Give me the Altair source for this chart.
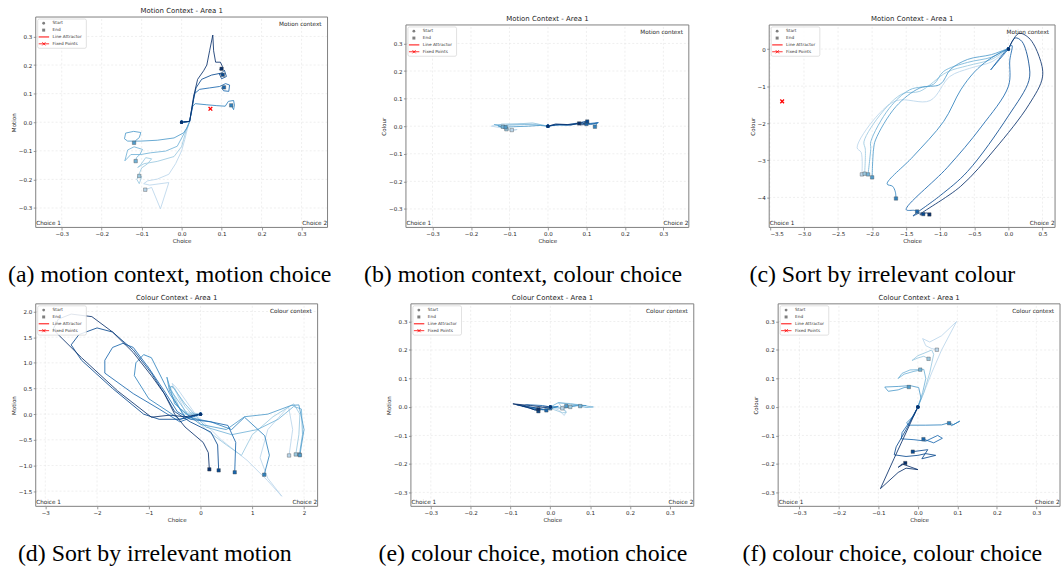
import altair as alt
import pandas as pd

# ---------------------------------------------------------------------------
# Trajectories in the (choice, context) plane, 8 trials per panel.
# Each panel lists its trials from the lightest shade to the darkest one.
# ---------------------------------------------------------------------------
A_PATHS = [
    [(0, 0), (0.02, 0.003), (0.015, -0.02), (0.008, -0.06), (0.0, -0.10), (-0.015, -0.145), (-0.032, -0.182),
     (-0.061, -0.199), (-0.085, -0.205), (-0.095, -0.215), (-0.08, -0.22), (-0.032, -0.211), (-0.053, -0.303),
     (-0.075, -0.228), (-0.091, -0.236)],
    [(0, 0), (0.02, 0.003), (0.013, -0.02), (0.005, -0.06), (0.0, -0.085), (-0.019, -0.12), (-0.061, -0.137),
     (-0.094, -0.145), (-0.11, -0.158), (-0.104, -0.152), (-0.09, -0.124), (-0.075, -0.128), (-0.085, -0.145),
     (-0.1, -0.16), (-0.112, -0.2), (-0.106, -0.215), (-0.1, -0.19), (-0.106, -0.188)],
    [(0, 0), (0.02, 0.003), (0.015, -0.017), (0.007, -0.037), (-0.011, -0.084), (-0.04, -0.101), (-0.078, -0.107),
     (-0.102, -0.113), (-0.127, -0.113), (-0.142, -0.135), (-0.135, -0.097), (-0.119, -0.086), (-0.098, -0.095),
     (-0.104, -0.112), (-0.113, -0.124), (-0.115, -0.136)],
    [(0, 0), (0.02, 0.003), (0.013, -0.02), (0.005, -0.037), (-0.019, -0.055), (-0.061, -0.063), (-0.102, -0.066),
     (-0.135, -0.066), (-0.143, -0.058), (-0.14, -0.038), (-0.12, -0.032), (-0.102, -0.036), (-0.106, -0.054),
     (-0.115, -0.064), (-0.119, -0.072)],
    [(0, 0), (0.02, 0.003), (0.024, 0.03), (0.028, 0.056), (0.034, 0.065), (0.063, 0.061), (0.088, 0.058),
     (0.109, 0.056), (0.117, 0.073), (0.13, 0.076), (0.132, 0.06), (0.13, 0.044), (0.124, 0.059)],
    [(0, 0), (0.02, 0.003), (0.026, 0.05), (0.032, 0.1), (0.045, 0.115), (0.07, 0.12), (0.095, 0.125),
     (0.11, 0.135), (0.12, 0.13), (0.118, 0.108), (0.105, 0.11), (0.1, 0.12), (0.106, 0.122)],
    [(0, 0), (0.02, 0.003), (0.03, 0.08), (0.036, 0.12), (0.05, 0.15), (0.075, 0.165), (0.1, 0.172),
     (0.107, 0.182), (0.112, 0.16), (0.1, 0.152), (0.094, 0.17), (0.103, 0.166)],
    [(0, 0), (0.02, 0.003), (0.03, 0.09), (0.04, 0.15), (0.055, 0.18), (0.063, 0.2), (0.07, 0.25),
     (0.078, 0.305), (0.08, 0.25), (0.085, 0.21), (0.097, 0.21), (0.102, 0.195), (0.095, 0.185), (0.1, 0.187)],
]

B_PATHS = [
    [(0, 0), (-0.03, 0.008), (-0.07, 0.01), (-0.11, 0.006), (-0.14, 0.004), (-0.147, 0.0), (-0.12, -0.006),
     (-0.095, -0.016), (-0.08, -0.012), (-0.094, -0.014)],
    [(0, 0), (-0.04, 0.012), (-0.08, 0.008), (-0.12, 0.008), (-0.13, 0.002), (-0.11, -0.008), (-0.1, -0.01),
     (-0.108, -0.011)],
    [(0, 0), (-0.03, 0.005), (-0.06, 0.006), (-0.1, 0.004), (-0.125, 0.0), (-0.14, 0.006), (-0.12, 0.004),
     (-0.117, -0.002)],
    [(0, 0), (-0.02, 0.003), (-0.05, 0.0), (-0.09, -0.002), (-0.12, -0.004), (-0.13, 0.002), (-0.115, -0.006),
     (-0.11, -0.004)],
    [(0, 0), (0.02, 0.004), (0.05, 0.004), (0.08, 0.008), (0.1, 0.01), (0.12, 0.008), (0.128, 0.01),
     (0.12, -0.003), (0.122, -0.002)],
    [(0, 0), (0.02, 0.006), (0.05, 0.005), (0.07, 0.01), (0.09, 0.012), (0.11, 0.01), (0.131, 0.013),
     (0.11, 0.006), (0.1, 0.008)],
    [(0, 0), (0.03, 0.006), (0.06, 0.004), (0.08, 0.012), (0.1, 0.018), (0.105, 0.01), (0.095, 0.014),
     (0.102, 0.017)],
    [(0, 0), (0.02, 0.008), (0.05, 0.006), (0.07, 0.008), (0.09, 0.012), (0.1, 0.006), (0.085, 0.005),
     (0.081, 0.01)],
]

C_PATHS = [
    [(0, 0), (-0.05, -0.07), (-0.24, -0.34), (-0.57, -0.52), (-0.86, -0.74), (-1.15, -1.39), (-1.64, -1.39),
     (-1.95, -1.85), (-2.22, -2.66), (-2.16, -2.79), (-2.15, -3.38)],
    [(0, 0), (-0.05, -0.05), (-0.25, -0.28), (-0.6, -0.45), (-0.9, -0.62), (-1.3, -1.14), (-1.55, -1.2),
     (-1.85, -1.7), (-2.12, -2.5), (-2.1, -2.7), (-2.11, -3.36)],
    [(0, 0), (-0.05, -0.03), (-0.25, -0.22), (-0.6, -0.36), (-0.95, -0.6), (-1.1, -0.95), (-1.45, -1.1),
     (-1.75, -1.6), (-2.02, -2.5), (-2.02, -2.68), (-2.06, -3.38)],
    [(0, 0), (-0.05, -0.02), (-0.25, -0.15), (-0.6, -0.28), (-0.85, -0.55), (-1.0, -0.95), (-1.3, -1.05),
     (-1.65, -1.55), (-1.95, -2.45), (-1.98, -2.72), (-2.0, -3.46)],
    [(0, 0), (-0.1, -0.08), (-0.3, -0.3), (-0.5, -0.62), (-0.7, -1.1), (-0.95, -1.95), (-1.4, -2.9),
     (-1.78, -3.64), (-1.7, -3.7), (-1.66, -3.85), (-1.65, -4.03)],
    [(0, 0), (-0.26, -0.56), (0.05, 0.1), (0.02, -0.3), (0.0, -1.0), (-0.4, -2.1), (-0.9, -3.2),
     (-1.5, -4.33), (-1.38, -4.35), (-1.34, -4.38)],
    [(0, 0), (0.1, 0.3), (0.2, 0.2), (0.3, -0.4), (0.3, -0.85), (0.0, -1.8), (-0.6, -3.3), (-1.0, -3.95),
     (-1.4, -4.5), (-1.3, -4.42), (-1.25, -4.45)],
    [(0, 0), (0.15, 0.42), (0.3, 0.3), (0.45, -0.2), (0.5, -0.75), (0.3, -1.5), (-0.2, -2.7), (-0.7, -3.7),
     (-1.3, -4.47), (-1.2, -4.42), (-1.16, -4.46)],
]

D_PATHS = [
    [(0, 0), (-0.3, 0.05), (-0.55, 0.6), (-0.45, 0.5), (-0.1, 0.0), (0.4, -0.5), (0.9, -0.9), (1.3, -1.3),
     (1.57, -1.6), (1.3, -1.25), (1.15, -0.85), (1.3, -0.3), (1.7, 0.15), (1.78, -0.3), (1.71, -0.805)],
    [(0, 0), (-0.35, 0.0), (-0.6, 0.55), (-0.5, 0.5), (-0.3, 0.15), (0.1, -0.3), (0.5, -0.6), (0.79, -0.805),
     (1.0, -0.4), (1.4, -0.05), (1.8, 0.2), (1.92, 0.0), (1.9, -0.4), (1.84, -0.785)],
    [(0, 0), (-0.25, 0.0), (-0.6, 0.5), (-0.55, 0.55), (-0.3, 0.2), (0.1, -0.25), (0.6, -0.4), (1.1, -0.3),
     (1.5, -0.1), (1.8, 0.15), (1.95, 0.1), (1.97, -0.4), (1.91, -0.785)],
    [(0, 0), (-0.2, -0.05), (-0.5, 0.2), (-0.65, 0.72), (-0.6, 0.45), (-0.4, 0.1), (0.0, -0.2), (0.5, -0.3),
     (0.85, -0.05), (1.3, 0.0), (1.75, 0.17), (1.9, 0.18), (2.0, -0.3), (1.95, -0.6), (1.92, -0.80)],
    [(0, 0), (-0.4, -0.1), (-1.0, 0.3), (-1.28, 0.75), (-1.25, 1.0), (-1.1, 1.16), (-0.95, 1.1), (-0.75, 0.7),
     (-0.6, 0.4), (-0.3, -0.05), (0.2, -0.15), (0.6, -0.3), (0.85, -0.06), (1.24, -0.42), (1.33, -0.8),
     (1.23, -1.18)],
    [(0, 0), (-0.4, -0.15), (-0.8, 0.1), (-1.3, 0.4), (-1.85, 0.8), (-1.85, 1.05), (-1.7, 1.3), (-1.5, 1.38),
     (-1.3, 1.3), (-1.0, 0.9), (-0.7, 0.45), (-0.45, 0.05), (-0.2, -0.1), (0.2, -0.15), (0.53, -0.22),
     (0.68, -0.55), (0.66, -1.133)],
    [(0, 0), (-0.4, -0.1), (-0.8, -0.1), (-1.1, 0.0), (-1.7, 0.5), (-2.3, 1.05), (-2.5, 1.35), (-2.35, 1.55),
     (-2.0, 1.68), (-1.7, 1.6), (-1.3, 1.25), (-0.95, 0.8), (-0.7, 0.4), (-0.5, 0.05), (-0.2, -0.15),
     (0.2, -0.35), (0.33, -0.6), (0.35, -1.095)],
    [(0, 0), (-0.3, -0.05), (-0.6, -0.02), (-0.95, -0.06), (-1.6, 0.45), (-2.3, 1.1), (-2.85, 1.65),
     (-2.75, 1.85), (-2.5, 1.95), (-2.1, 1.9), (-1.7, 1.6), (-1.3, 1.2), (-0.95, 0.75), (-0.7, 0.4),
     (-0.5, 0.0), (-0.3, -0.25), (0.05, -0.55), (0.15, -0.75), (0.17, -1.075)],
]

E_PATHS = [
    [(0, 0), (0.02, -0.01), (0.035, -0.03), (0.04, -0.015), (0.025, 0.0), (0.045, 0.01), (0.03, -0.005)],
    [(0, 0), (0.01, -0.01), (0.03, -0.02), (0.04, -0.02), (0.02, 0.015), (0.05, 0.012), (0.07, 0.008),
     (0.05, 0.0)],
    [(0, 0), (0.02, 0.015), (0.05, 0.01), (0.08, 0.006), (0.1, 0.001), (0.108, 0.0), (0.09, -0.002),
     (0.075, 0.003)],
    [(0, 0), (0.03, -0.005), (0.05, 0.0), (0.07, 0.006), (0.09, 0.005), (0.06, 0.004), (0.04, 0.003)],
    [(0, 0), (0.02, 0.002), (-0.01, -0.01), (-0.05, -0.005), (-0.02, -0.01), (0.0, -0.005)],
    [(0, 0), (-0.02, 0.005), (-0.06, 0.008), (-0.07, 0.002), (-0.04, -0.003), (-0.01, -0.012)],
    [(0, 0), (-0.03, -0.005), (-0.07, 0.005), (-0.085, 0.008), (-0.05, -0.005), (-0.03, -0.015)],
    [(0, 0), (-0.02, 0.0), (-0.05, 0.005), (-0.094, 0.011), (-0.06, 0.0), (-0.04, -0.01), (-0.03, -0.008)],
]

F_PATHS = [
    [(0, 0), (0.015, 0.05), (0.035, 0.12), (0.06, 0.2), (0.098, 0.3), (0.06, 0.25), (0.03, 0.228),
     (0.012, 0.24), (0.02, 0.215), (0.035, 0.205), (0.048, 0.201)],
    [(0, 0), (0.015, 0.05), (0.03, 0.12), (0.04, 0.185), (0.035, 0.2), (0.018, 0.19), (0.0, 0.18),
     (-0.015, 0.163), (0.0, 0.172), (0.015, 0.178), (0.027, 0.169)],
    [(0, 0), (0.012, 0.05), (0.02, 0.1), (0.015, 0.132), (-0.01, 0.125), (-0.035, 0.115), (-0.05, 0.1),
     (-0.04, 0.118), (-0.02, 0.13), (0.006, 0.131)],
    [(0, 0), (0.008, 0.03), (0.002, 0.068), (-0.02, 0.075), (-0.05, 0.072), (-0.084, 0.07), (-0.075, 0.055),
     (-0.05, 0.06), (-0.035, 0.068), (-0.023, 0.07)],
    [(0, 0), (-0.01, -0.03), (-0.028, -0.055), (-0.025, -0.064), (0.02, -0.064), (0.06, -0.063),
     (0.08, -0.055), (0.085, -0.066), (0.106, -0.05), (0.09, -0.062), (0.079, -0.057)],
    [(0, 0), (-0.02, -0.05), (-0.04, -0.09), (-0.042, -0.112), (-0.01, -0.115), (0.02, -0.12), (0.05, -0.1),
     (0.062, -0.11), (0.04, -0.126), (0.014, -0.113)],
    [(0, 0), (-0.03, -0.08), (-0.055, -0.14), (-0.06, -0.168), (-0.03, -0.174), (0.0, -0.17), (0.02, -0.164),
     (0.045, -0.17), (0.01, -0.182), (0.025, -0.15), (-0.013, -0.157)],
    [(0, 0), (-0.04, -0.12), (-0.06, -0.18), (-0.095, -0.287), (-0.05, -0.23), (-0.03, -0.215), (0.0, -0.22),
     (-0.04, -0.2), (-0.05, -0.212), (-0.032, -0.197)],
]

A_FIXED = [(0.072, 0.047)]
C_FIXED = [(-3.32, -1.41)]

PATHS = [A_PATHS, B_PATHS, C_PATHS, D_PATHS, E_PATHS, F_PATHS]
FIXED = [A_FIXED, [], C_FIXED, [], [], []]
# panel (c) trajectories are smooth sweeps; the others are drawn point to point
CURVES = ["linear", "linear", "catmull-rom", "linear", "linear", "linear"]

PALETTE = ["#bad6eb", "#9ac8e0", "#73b3d8", "#4f9bcb", "#3082be", "#1966ad", "#08488e", "#08306b"]

PANEL_TITLES = ["Motion Context - Area 1"] * 3 + ["Colour Context - Area 1"] * 3
CONTEXT_NOTES = ["Motion context"] * 3 + ["Colour context"] * 3
Y_TITLES = ["Motion", "Colour", "Colour", "Motion", "Motion", "Colour"]
CAPTIONS = [
    "(a) motion context, motion choice",
    "(b) motion context, colour choice",
    "(c) Sort by irrelevant colour",
    "(d) Sort by irrelevant motion",
    "(e) colour choice, motion choice",
    "(f) colour choice, colour choice",
]
LEGEND_LABELS = ["Start", "End", "Line Attractor", "Fixed Points"]
CORNER_LABELS = ["Choice 1", "Choice 2"]

SYM_TICKS = [-0.3, -0.2, -0.1, 0.0, 0.1, 0.2, 0.3]
X_TICKS = [SYM_TICKS, SYM_TICKS, [-3.5, -3.0, -2.5, -2.0, -1.5, -1.0, -0.5, 0.0, 0.5],
           [-3, -2, -1, 0, 1, 2], SYM_TICKS, SYM_TICKS]
Y_TICKS = [SYM_TICKS, SYM_TICKS, [-4, -3, -2, -1, 0],
           [-1.5, -1.0, -0.5, 0.0, 0.5, 1.0, 1.5, 2.0], SYM_TICKS, SYM_TICKS]
X_FORMATS = [".1f", ".1f", ".1f", "d", ".1f", ".1f"]
Y_FORMATS = [".1f", ".1f", "d", ".1f", ".1f", ".1f"]
X_LIMITS = [(-0.365, 0.365), (-0.369, 0.366), (-3.51, 0.684), (-3.185, 2.262), (-0.35, 0.36), (-0.354, 0.36)]
Y_LIMITS = [(-0.368, 0.368), (-0.367, 0.367), (-4.81, 0.65), (-1.796, 2.149), (-0.349, 0.362),
            (-0.349, 0.362)]

# Pixel layout of each panel: view size, plot frame inside the view, caption anchor.
LAYOUT = [
    dict(view=(294, 212), frame=(0, 0, 294, 212), caption=(135, 267)),
    dict(view=(288, 212), frame=(3, 8, 285, 204), caption=(121, 267)),
    dict(view=(288, 212), frame=(0, 8, 288, 204), caption=(114, 267)),
    dict(view=(284, 204), frame=(0, 0, 284, 204), caption=(120, 259)),
    dict(view=(293, 204), frame=(8, 0, 285, 204), caption=(131, 259)),
    dict(view=(293, 204), frame=(9, 0, 284, 204), caption=(124, 259)),
]

FONT = "DejaVu Sans"
SERIF = "Liberation Serif"
INK = "#262626"
ONE_ROW = alt.Data(values=[{"k": 0}])
X_MARK = "M-1,-1L1,1M-1,1L1,-1"


def text_layer(text, x, y, size, align="left", font=FONT, baseline="middle", color=INK):
    return alt.Chart(ONE_ROW).mark_text(
        text=text, align=align, baseline=baseline, font=font, fontSize=size, color=color
    ).encode(x=alt.value(x), y=alt.value(y))


def legend_layers(fx, fy):
    rows = [fy + 6.3 + 6.9 * k for k in range(4)]
    out = [
        alt.Chart(ONE_ROW).mark_rect(fill="white", fillOpacity=0.85, stroke="#cccccc",
                                     strokeWidth=0.6, cornerRadius=1.5)
        .encode(x=alt.value(fx + 2), x2=alt.value(fx + 51), y=alt.value(fy + 2), y2=alt.value(fy + 31.5)),
        alt.Chart(ONE_ROW).mark_point(shape="circle", filled=True, color="#7f7f7f", size=8, opacity=1)
        .encode(x=alt.value(fx + 8), y=alt.value(rows[0])),
        alt.Chart(ONE_ROW).mark_point(shape="square", filled=True, color="#7f7f7f", size=9, opacity=1)
        .encode(x=alt.value(fx + 8), y=alt.value(rows[1])),
        alt.Chart(ONE_ROW).mark_rule(color="#ff0000", strokeWidth=1)
        .encode(x=alt.value(fx + 3), x2=alt.value(fx + 13.5), y=alt.value(rows[2])),
        alt.Chart(ONE_ROW).mark_rule(color="#ff0000", strokeWidth=0.8)
        .encode(x=alt.value(fx + 3), x2=alt.value(fx + 13.5), y=alt.value(rows[3])),
        alt.Chart(ONE_ROW).mark_point(shape=X_MARK, filled=False, color="#ff0000", size=10, strokeWidth=0.8,
                                      opacity=1)
        .encode(x=alt.value(fx + 8.2), y=alt.value(rows[3])),
    ]
    for label, ry in zip(LEGEND_LABELS, rows):
        out.append(text_layer(label, fx + 17, ry, 4.3, color="#333333"))
    return out


def trajectory_table(paths):
    rows = []
    for k, pts in enumerate(paths):
        for s, (x, y) in enumerate(pts):
            rows.append({"trial": k, "step": s, "x": x, "y": y, "last": s == len(pts) - 1})
    return pd.DataFrame(rows)


def panel(i):
    lay = LAYOUT[i]
    vw, vh = lay["view"]
    fx, fy, fw, fh = lay["frame"]
    cx, cy = lay["caption"]
    x0, x1 = X_LIMITS[i]
    y0, y1 = Y_LIMITS[i]

    xs = alt.Scale(domain=[x0, x1], range=[fx, fx + fw], nice=False, zero=False)
    ys = alt.Scale(domain=[y0, y1], range=[fy + fh, fy], nice=False, zero=False)
    common = dict(domain=False, grid=False, ticks=True, tickSize=2.5, tickColor="#555555", tickWidth=0.6,
                  labelFont=FONT, labelFontSize=5.6, labelColor=INK, labelPadding=1.5,
                  titleFont=FONT, titleFontSize=5.6, titleColor=INK, titleFontWeight="normal",
                  titlePadding=2)
    x_axis = alt.Axis(values=X_TICKS[i], format=X_FORMATS[i], title="Choice", orient="bottom", **common)
    y_axis = alt.Axis(values=Y_TICKS[i], format=Y_FORMATS[i], title=Y_TITLES[i], orient="left",
                      offset=-fx, **common)

    def X(field):
        return alt.X(field, scale=xs, axis=x_axis)

    def Y(field):
        return alt.Y(field, scale=ys, axis=y_axis)

    colour = alt.Color("trial:N", scale=alt.Scale(domain=list(range(8)), range=PALETTE), legend=None)
    traj = trajectory_table(PATHS[i])

    grid_v = pd.DataFrame({"v": X_TICKS[i], "lo": y0, "hi": y1})
    grid_h = pd.DataFrame({"v": Y_TICKS[i], "lo": x0, "hi": x1})
    frame = pd.DataFrame({"xa": [x0], "xb": [x1], "ya": [y0], "yb": [y1]})

    grid_style = dict(color="#e4e4e4", strokeWidth=0.6, strokeDash=[2, 2])
    layers = [
        alt.Chart(grid_v).mark_rule(**grid_style).encode(x=X("v:Q"), y=Y("lo:Q"), y2="hi:Q"),
        alt.Chart(grid_h).mark_rule(**grid_style).encode(y=Y("v:Q"), x=X("lo:Q"), x2="hi:Q"),
        alt.Chart(frame).mark_rect(fillOpacity=0, stroke="#808080", strokeWidth=1).encode(
            x=X("xa:Q"), x2="xb:Q", y=Y("ya:Q"), y2="yb:Q"),
        alt.Chart(traj).mark_line(strokeWidth=0.9, opacity=0.95, interpolate=CURVES[i]).encode(
            x=X("x:Q"), y=Y("y:Q"), color=colour, order="step:Q"),
        alt.Chart(traj).transform_filter("datum.last").mark_point(
            shape="square", filled=True, size=12, opacity=1, stroke="#4d4d4d", strokeWidth=0.4).encode(
            x=X("x:Q"), y=Y("y:Q"), color=colour),
        alt.Chart(traj).transform_filter("datum.step == 0").mark_point(
            shape="circle", filled=True, size=12, opacity=1).encode(
            x=X("x:Q"), y=Y("y:Q"), color=colour),
    ]
    if FIXED[i]:
        fixed = pd.DataFrame(FIXED[i], columns=["x", "y"])
        layers.append(alt.Chart(fixed).mark_point(
            shape=X_MARK, filled=False, color="#ff0000", size=14, strokeWidth=1.3, opacity=1).encode(
            x=X("x:Q"), y=Y("y:Q")))

    layers += legend_layers(fx, fy)
    layers += [
        text_layer(PANEL_TITLES[i], fx + fw / 2, fy - 6, 7, align="center"),
        text_layer(CONTEXT_NOTES[i], fx + fw - 6, fy + 7.5, 5.75, align="right"),
        text_layer(CORNER_LABELS[0], fx + 0.5, fy + fh - 4.3, 5.75, align="left"),
        text_layer(CORNER_LABELS[1], fx + fw - 0.5, fy + fh - 4.3, 5.75, align="right"),
        text_layer(CAPTIONS[i], cx, cy, 24, align="center", font=SERIF, baseline="alphabetic", color="#000000"),
    ]
    return alt.layer(*layers).properties(width=vw, height=vh)


chart = alt.concat(
    *[panel(i) for i in range(6)],
    columns=3, spacing={"row": 77, "column": 76}, align="none", bounds="flush",
).properties(
    padding={"left": 8, "top": 5, "right": 2, "bottom": 2}
).configure_view(strokeOpacity=0)

chart.save("out.html", embed_options={"renderer": "svg", "actions": False})
